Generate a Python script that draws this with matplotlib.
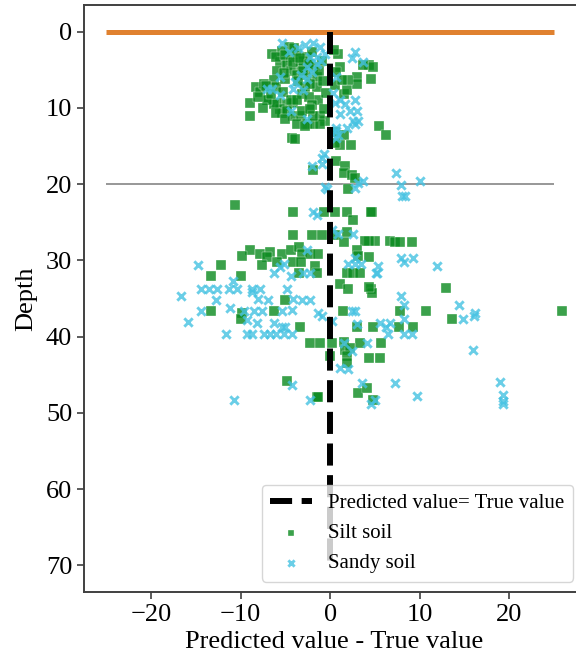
import numpy as np
import matplotlib
matplotlib.use("Agg")
import matplotlib.pyplot as plt

plt.rcParams['font.family'] = ['Liberation Serif', 'DejaVu Serif']
plt.rcParams['mathtext.fontset'] = 'stix'

# Prediction error (predicted - true) against depth, per soil type
silt_points = [
    (-6.5, 2.9), (-4.6, 2.0), (-5.6, 4.0), (-5.9, 5.1), (-4.4, 3.3), (-3.7, 2.9),
    (-4.8, 4.4), (-3.3, 4.6), (-2.6, 3.3), (-4.4, 5.1), (-3.7, 5.7), (-2.6, 5.7),
    (-1.9, 4.6), (-1.5, 6.0), (-1.5, 7.3), (-3.1, 8.2), (-2.8, 7.3), (0.9, 2.9),
    (0.4, 2.4), (1.1, 4.6), (0.7, 5.3), (1.5, 8.2), (1.9, 7.7), (3.0, 6.0),
    (3.0, 6.8), (4.6, 6.2), (4.3, 4.4), (4.8, 4.6), (3.7, 4.4), (2.0, 6.4),
    (-1.3, 9.0), (-0.55, 11.7), (-1.1, 11.0), (-0.7, 10.1), (-8.3, 7.3), (-7.8, 7.9),
    (-7.4, 6.8), (-8.9, 9.3), (-8.9, 11.0), (-6.3, 6.4), (-6.1, 7.3), (-5.3, 7.9),
    (-7.2, 7.1), (-6.9, 9.0), (-5.9, 9.3), (-4.8, 9.5), (-4.1, 9.3), (-5.6, 10.1),
    (-5.4, 10.6), (-4.8, 10.4), (-4.1, 11.0), (-3.3, 11.0), (-3.1, 10.4), (-4.4, 9.0),
    (-3.7, 9.0), (-3.7, 12.1), (-2.6, 12.1), (-1.9, 12.1), (-1.1, 12.1), (-2.8, 12.4),
    (-1.9, 11.0), (-4.3, 13.9), (-3.9, 14.1), (0.55, 13.2), (1.5, 13.5), (2.3, 14.8),
    (1.1, 14.8), (0.55, 14.6), (0.7, 17.0), (1.7, 17.6), (-1.9, 18.1), (1.5, 18.5),
    (2.4, 18.8), (2.8, 19.2), (2.0, 20.7), (5.5, 12.4), (6.3, 13.5), (-6.3, 9.5),
    (-7.0, 9.0), (-5.4, 2.5), (-4.0, 2.2), (-3.0, 3.8), (-2.0, 2.6), (-3.6, 6.5),
    (-2.2, 6.8), (-0.9, 3.8), (-1.2, 5.1), (-5.0, 6.2), (-2.4, 8.6),
    (-6.0, 3.3), (-5.0, 3.0), (-4.2, 4.0), (-3.4, 3.4), (-2.4, 4.2), (-3.0, 5.2),
    (-5.2, 5.4), (-0.8, 6.5), (-0.5, 8.0), (0.6, 7.0), (1.3, 6.4), (-2.0, 9.6),
    (-6.6, 8.2), (-8.0, 8.6), (-7.5, 10.0), (-6.0, 10.6), (-5.0, 11.5), (-2.2, 10.2),
    (4.7, 23.6), (5.0, 27.4), (4.4, 27.4), (6.7, 27.5), (7.2, 27.6), (7.8, 27.6),
    (9.2, 27.6), (4.4, 29.6), (12.9, 33.6), (4.6, 33.8), (4.7, 34.3), (7.8, 36.7),
    (10.7, 36.7), (25.9, 36.6), (-10.6, 22.7), (-4.1, 23.6), (-0.7, 23.6), (0.55, 23.6),
    (1.9, 23.6), (2.6, 24.7), (4.6, 23.6), (-4.1, 26.7), (-2.0, 26.7), (-0.9, 26.7),
    (0.55, 26.7), (1.5, 27.6), (1.9, 26.3), (3.9, 27.4), (3.0, 28.7), (3.1, 29.4),
    (-8.9, 28.7), (-9.8, 29.4), (-7.8, 29.1), (-6.7, 28.9), (-7.0, 29.6), (-5.4, 29.1),
    (-5.9, 30.2), (-7.6, 30.6), (-12.2, 30.6), (-13.3, 32.1), (-10.0, 32.1), (-4.4, 28.7),
    (-3.5, 28.3), (-3.1, 29.1), (-2.2, 29.1), (-1.3, 29.1), (-4.1, 30.2), (-3.3, 30.2),
    (-1.7, 30.7), (-3.5, 31.6), (-1.5, 31.6), (1.9, 31.6), (2.6, 31.6), (3.3, 31.6),
    (1.1, 33.1), (2.0, 33.7), (4.4, 33.5), (-5.0, 35.2), (-13.3, 36.7), (-9.8, 36.9),
    (-9.9, 37.7), (-6.3, 36.7), (1.4, 36.7), (-3.4, 38.7), (3.0, 38.7), (4.8, 38.7),
    (7.7, 38.7), (9.3, 38.7), (13.6, 37.7), (-2.3, 40.8), (-1.1, 40.8), (0.2, 40.8),
    (1.5, 40.7), (1.7, 41.8), (3.3, 40.8), (5.7, 40.8), (2.2, 41.5), (0.0, 42.6),
    (1.9, 42.6), (1.9, 43.5), (4.3, 42.8), (5.6, 42.8), (-4.8, 45.8), (3.1, 47.4),
    (4.1, 46.8), (-1.5, 47.9), (-1.3, 47.9), (4.8, 48.3),
]

sandy_points = [
    (-5.4, 1.5), (-2.8, 1.8), (-1.9, 1.5), (-1.1, 2.0), (-0.6, 2.9), (-2.2, 3.3),
    (-1.5, 3.3), (-2.6, 4.6), (-2.0, 5.3), (-3.3, 5.7), (-5.6, 6.0), (-1.5, 4.2),
    (-4.1, 7.5), (-3.0, 7.7), (-6.5, 7.5), (-7.0, 7.5), (2.8, 2.6), (2.4, 3.5),
    (3.7, 4.0), (0.7, 6.0), (2.8, 9.0), (1.1, 9.0), (1.7, 9.5), (0.55, 9.3),
    (2.2, 10.4), (3.0, 10.4), (2.6, 11.7), (3.1, 11.7), (1.1, 10.8), (0.7, 12.6),
    (0.9, 13.5), (-2.6, 11.5), (-4.4, 10.4), (1.9, 12.6), (2.8, 12.1), (0.7, 13.0),
    (0.7, 13.9), (-0.7, 16.1), (-0.9, 16.6), (-2.0, 17.6), (-0.9, 17.4), (-0.4, 20.7),
    (-0.6, 20.4), (2.8, 20.5), (3.7, 19.6), (3.1, 19.8), (7.4, 18.6), (7.9, 20.1),
    (10.0, 19.6), (8.0, 21.6), (8.4, 21.6),
    (-4.6, 2.6), (-3.6, 2.2), (-1.0, 3.9), (-3.9, 6.6), (-2.6, 6.2), (0.3, 8.1),
    (-5.6, 8.3),
    (-1.9, 23.6), (-1.5, 24.0), (0.2, 26.0), (0.9, 26.5), (2.6, 26.6), (-2.6, 28.7),
    (2.0, 30.5), (2.8, 30.5), (3.5, 30.5), (2.8, 29.7), (5.2, 31.6), (-14.8, 30.6),
    (-6.3, 31.6), (-5.6, 30.9), (-5.2, 30.5), (-10.9, 32.7), (-4.4, 32.0), (-3.0, 31.6),
    (-2.2, 31.6), (-16.7, 34.7), (-14.4, 33.7), (-13.5, 33.7), (-12.6, 33.7), (-11.3, 33.7),
    (-10.4, 33.7), (-8.7, 33.7), (-7.8, 33.7), (-8.7, 34.2), (-8.1, 35.1), (-6.9, 35.2),
    (-12.7, 35.2), (-4.8, 33.7), (-4.1, 35.1), (-3.1, 35.2), (-2.2, 35.2), (-14.4, 36.6),
    (-11.2, 36.2), (-9.6, 36.6), (-8.5, 36.6), (-7.6, 36.6), (-5.4, 36.6), (-4.3, 36.5),
    (-1.3, 36.9), (-0.9, 37.3), (2.4, 36.7), (2.8, 36.7), (-15.9, 38.1), (-9.3, 37.8),
    (-8.2, 38.2), (-6.3, 38.2), (-5.4, 38.7), (-5.0, 38.7), (0.2, 37.9), (3.0, 38.3),
    (-11.6, 39.7), (-9.3, 39.7), (-8.7, 39.7), (-7.4, 39.7), (-6.7, 39.7), (-6.1, 39.7),
    (-5.2, 39.7), (-4.3, 39.7), (1.5, 40.8), (4.1, 40.8), (2.4, 41.9), (5.6, 38.2),
    (6.7, 38.2), (6.3, 38.8), (6.5, 39.7), (8.3, 37.7), (8.3, 39.7), (9.1, 39.7),
    (8.3, 35.8), (14.4, 35.8), (14.8, 37.7), (16.1, 37.3), (16.0, 41.8), (1.1, 44.1),
    (2.0, 44.3), (-4.3, 46.4), (3.6, 46.1), (7.2, 46.1), (9.7, 47.8), (-10.7, 48.3),
    (-2.2, 48.3), (5.0, 48.3), (4.6, 48.8), (19.0, 45.9), (19.3, 47.7), (19.3, 48.4),
    (19.3, 48.8), (7.9, 29.7), (8.3, 30.2), (9.3, 29.7), (12.0, 30.7), (5.3, 30.7),
    (5.1, 31.7), (7.9, 34.7), (16.2, 36.9),
]

silt_error, silt_depth = np.array(silt_points).T
sandy_error, sandy_depth = np.array(sandy_points).T

# Reference lines
surface_depth = 0
layer_depth = 20
line_span = (-25, 25)
identity_depth = (0, 70)

fig = plt.figure(figsize=(5.76, 6.61), dpi=100)
ax = fig.add_axes([0.1458, 0.1044, 0.867, 0.888])

ax.hlines(surface_depth, *line_span, color='#e0812f', linewidth=3.6, zorder=2)
ax.hlines(layer_depth, *line_span, color='#7a7a7a', linewidth=1.1, zorder=1)

ax.scatter(silt_error, silt_depth, marker='s', s=44, color='#0a8a1e', alpha=0.8,
           edgecolors='white', linewidths=0.3, label='Silt soil', zorder=3)
ax.scatter(sandy_error, sandy_depth, marker='x', s=36, color='#45c2e2', alpha=0.8,
           linewidths=2.1, label='Sandy soil', zorder=3)

ax.plot([0, 0], identity_depth, color='black', linestyle='--', linewidth=4.3,
        label='Predicted value= True value', zorder=4)

ax.set_xlim(-27.5, 28.3)
ax.set_ylim(73.5, -3.5)
ax.set_xticks([-20, -10, 0, 10, 20])
ax.set_yticks([0, 10, 20, 30, 40, 50, 60, 70])

ax.set_xlabel('Predicted value - True value', fontsize=19, labelpad=4)
ax.set_ylabel('Depth', fontsize=19, labelpad=6)
ax.tick_params(labelsize=19, length=5, width=1.2, color='#404040')
for spine in ax.spines.values():
    spine.set_color('#404040')
    spine.set_linewidth(1.4)

handles, labels = ax.get_legend_handles_labels()
order = [labels.index('Predicted value= True value'), labels.index('Silt soil'),
         labels.index('Sandy soil')]
ax.legend([handles[i] for i in order], [labels[i] for i in order],
          loc='lower right', fontsize=15, markerscale=0.75, framealpha=0.8)

fig.savefig('out.png', dpi=100)
